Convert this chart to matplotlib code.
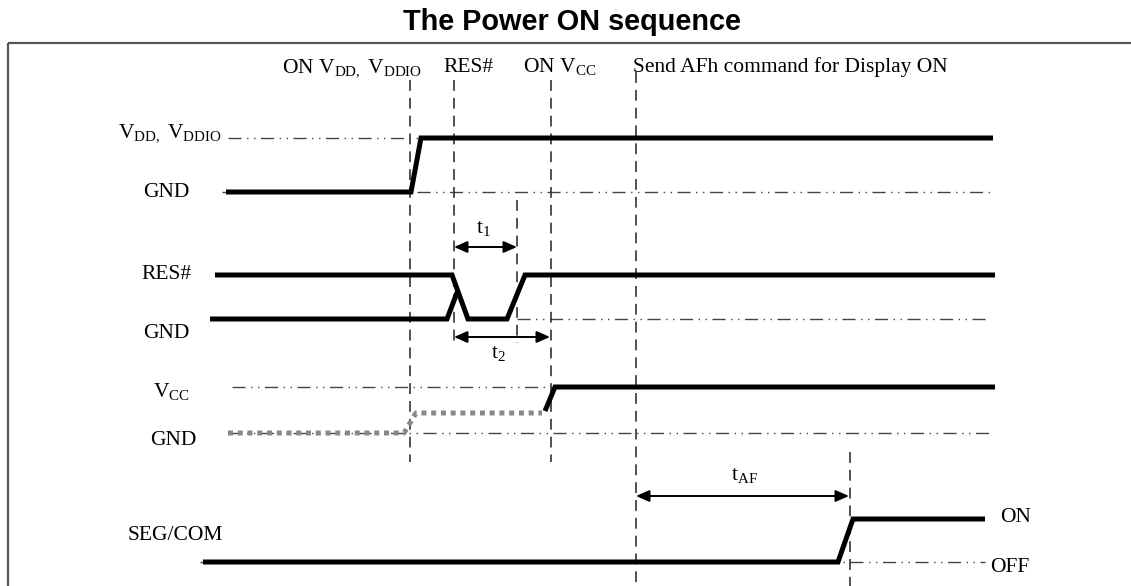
import matplotlib
matplotlib.use("Agg")
import matplotlib.pyplot as plt

# Drawing units = pixels of the original 1131x586 diagram (y grows downward)
title = "The Power ON sequence"

# event instants along the time axis
t_vdd_on = 410
t_res = 454
t_res_end = 517
t_vcc_on = 551
t_cmd = 636
t_disp_on = 850

# reference levels (dash-dot guides): y, x start, x end
ref_y = [138, 192, 319, 387, 433, 562]
ref_x0 = [228, 222, 517, 232, 228, 200]
ref_x1 = [990, 990, 990, 990, 990, 985]

# waveforms
vdd_x = [226, 411, 421, 993]
vdd_y = [192, 192, 138, 138]
res_x = [215, 452, 468, 507, 525, 995]
res_y = [275, 275, 319, 319, 275, 275]
resgnd_x = [210, 447, 458]
resgnd_y = [319, 319, 290]
vcc_off_x = [228, 404, 416, 542]
vcc_off_y = [433, 433, 413, 413]
vcc_x = [545, 555, 995]
vcc_y = [411, 387, 387]
seg_x = [203, 838, 853, 985]
seg_y = [562, 562, 519, 519]

# vertical event markers: x, y top, y bottom
mark_x = [t_vdd_on, t_res, t_vcc_on, t_res_end, t_cmd, t_disp_on]
mark_y0 = [80, 80, 80, 200, 72, 452]
mark_y1 = [462, 347, 462, 343, 586, 586]

# timing arrows: start, end, y, label, label x, label y
arr_x0 = [t_res, t_res, t_cmd]
arr_x1 = [t_res_end, t_vcc_on - 1, t_disp_on - 1]
arr_y = [247, 337, 496]
arr_lbl = [r"$\mathrm{t_1}$", r"$\mathrm{t_2}$", r"$\mathrm{t_{AF}}$"]
arr_lx = [483, 498, 744]
arr_ly = [228, 353, 475]

# text labels
top_lbl = [r"ON $\mathrm{V_{DD,}\ V_{DDIO}}$", "RES#", r"ON $\mathrm{V_{CC}}$",
           "Send AFh command for Display ON"]
top_x = [282, 443, 523, 633]
left_lbl = [r"$\mathrm{V_{DD,}\ V_{DDIO}}$", "GND", "RES#", "GND",
            r"$\mathrm{V_{CC}}$", "GND", "SEG/COM"]
left_x = [118, 143, 141, 143, 153, 150, 128]
left_y = [137, 197, 279, 338, 397, 445, 540]
right_lbl = ["ON", "OFF"]
right_x = [1000, 990]
right_y = [517, 568]

plt.rcParams["mathtext.fontset"] = "custom"
plt.rcParams["mathtext.rm"] = "Liberation Serif"
plt.rcParams["mathtext.it"] = "Liberation Serif:italic"

fig = plt.figure(figsize=(11.31, 5.86), dpi=100)
ax = fig.add_axes([0, 0, 1, 1])
ax.set_xlim(0, 1131)
ax.set_ylim(586, 0)
ax.axis("off")

serif = "Liberation Serif"
fs = 15.5

# frame of the figure box
ax.plot([8, 1131], [43, 43], color="#555555", lw=1.6, solid_capstyle="butt")
ax.plot([8, 8], [43, 586], color="#555555", lw=1.6, solid_capstyle="butt")

ax.text(572, 30, title, family="Liberation Sans", weight="bold", fontsize=20.8,
        ha="center", va="baseline")

# dash-dot-dot level guides
for y, x0, x1 in zip(ref_y, ref_x0, ref_x1):
    ax.plot([x0, x1], [y, y], color="#444444", lw=1.0,
            linestyle=(0, (9.4, 4, 1, 4, 1, 4)))

# dashed event markers
for x, y0, y1 in zip(mark_x, mark_y0, mark_y1):
    ax.plot([x, x], [y0, y1], color="#333333", lw=1.2, linestyle=(0, (6.5, 4.2)))

# signals
sig = dict(color="black", lw=3.6, solid_capstyle="butt", solid_joinstyle="miter")
ax.plot(vdd_x, vdd_y, **sig)
ax.plot(res_x, res_y, **sig)
ax.plot(resgnd_x, resgnd_y, **sig)
ax.plot(vcc_x, vcc_y, **sig)
ax.plot(seg_x, seg_y, **sig)
ax.plot(vcc_off_x, vcc_off_y, color="#888888", lw=3.6, linestyle=(0, (1, 0.95)),
        dash_capstyle="butt")

# timing arrows
for x0, x1, y, lbl, lx, ly in zip(arr_x0, arr_x1, arr_y, arr_lbl, arr_lx, arr_ly):
    ax.annotate("", xy=(x1, y), xytext=(x0, y),
                arrowprops=dict(arrowstyle="<|-|>,head_length=0.8,head_width=0.35",
                                color="black", lw=1.4, shrinkA=0, shrinkB=0))
    ax.text(lx, ly, lbl, fontsize=fs, ha="center", va="center")

for lbl, x in zip(top_lbl, top_x):
    ax.text(x, 72, lbl, family=serif, fontsize=fs, ha="left", va="baseline")
for lbl, x, y in zip(left_lbl, left_x, left_y):
    ax.text(x, y, lbl, family=serif, fontsize=fs, ha="left", va="baseline")
for lbl, x, y in zip(right_lbl, right_x, right_y):
    ax.text(x, y, lbl, family=serif, fontsize=fs, ha="left", va="center")

fig.savefig("out.png", dpi=100)
